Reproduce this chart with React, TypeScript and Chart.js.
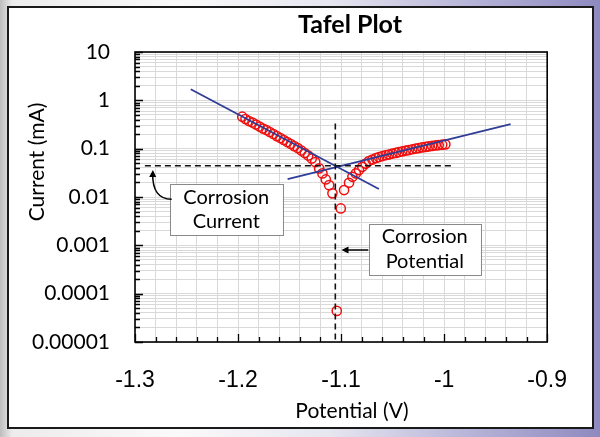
import React, { useEffect, useRef } from 'react';
import { Chart, registerables } from 'chart.js';
Chart.register(...registerables);

// Measured data (Potential in V, Current in mA)
const potentialV = [
  -1.1959, -1.1928, -1.1894, -1.186, -1.1826, -1.1792, -1.1758, -1.1725, -1.1691, -1.1657,
  -1.1623, -1.1589, -1.1556, -1.1522, -1.1488, -1.1454, -1.142, -1.1386, -1.1353, -1.1319,
  -1.1285, -1.1251, -1.1213, -1.1181, -1.1148, -1.1116, -1.1084, -1.1042, -1.1003, -1.0971,
  -1.0923, -1.089, -1.0857, -1.0826, -1.0794, -1.0762, -1.073, -1.0696, -1.0662, -1.0633,
  -1.0599, -1.0565, -1.0536, -1.0502, -1.0469, -1.044, -1.0406, -1.0372, -1.0343, -1.0309,
  -1.0275, -1.0246, -1.0213, -1.0179, -1.015, -1.0116, -1.0082, -1.0053, -1.0019, -0.9988,
];
const currentMA = [
  0.458, 0.41, 0.373, 0.347, 0.316, 0.287, 0.261, 0.243, 0.221, 0.201,
  0.182, 0.166, 0.151, 0.137, 0.125, 0.113, 0.103, 0.0913, 0.0811, 0.072,
  0.0624, 0.0528, 0.0391, 0.0308, 0.0231, 0.0176, 0.0119, 0.000044, 0.0058, 0.0139,
  0.0197, 0.0262, 0.0308, 0.0361, 0.0422, 0.0491, 0.0554, 0.0595, 0.0639, 0.067,
  0.0703, 0.0737, 0.0755, 0.0792, 0.0818, 0.085, 0.0879, 0.0913, 0.0935, 0.0972,
  0.1005, 0.1029, 0.1064, 0.109, 0.1116, 0.1143, 0.1171, 0.1187, 0.121, 0.1227,
];

// Tafel fit lines
const cathodicFitV = [-1.2459, -1.0633];
const cathodicFitI = [1.69, 0.0146];
const anodicFitV = [-1.1519, -0.9355];
const anodicFitI = [0.0235, 0.323];

// Corrosion point guide lines
const icorrLineV = [-1.2904, -0.9916];
const icorrLineI = [0.0443, 0.0443];
const ecorrLineV = [-1.1056, -1.1056];
const ecorrLineI = [0.33, 0.00001];

// Axis ticks
const xTickLabels = ['-1.3', '-1.2', '-1.1', '-1', '-0.9'];
const yTickLabels = ['0.00001', '0.0001', '0.001', '0.01', '0.1', '1', '10'];

const toPts = (xs: number[], ys: number[]) => xs.map((x, i) => ({ x, y: ys[i] }));

const LABEL_FONT = 'Lato, "Open Sans", sans-serif';

function arrowHead(ctx: CanvasRenderingContext2D, tx: number, ty: number, fx: number, fy: number, len: number, half: number) {
  const ang = Math.atan2(ty - fy, tx - fx);
  ctx.beginPath();
  ctx.moveTo(tx, ty);
  ctx.lineTo(tx - len * Math.cos(ang) + half * Math.sin(ang), ty - len * Math.sin(ang) - half * Math.cos(ang));
  ctx.lineTo(tx - len * Math.cos(ang) - half * Math.sin(ang), ty - len * Math.sin(ang) + half * Math.cos(ang));
  ctx.closePath();
  ctx.fill();
}

const decoPlugin = {
  id: 'deco',
  afterDraw(chart: any) {
    const { ctx, chartArea: a, scales } = chart;
    const xs = scales.x;
    const ys = scales.y;
    ctx.save();
    // plot frame
    ctx.strokeStyle = '#000';
    ctx.lineWidth = 1.6;
    ctx.strokeRect(a.left, a.top, a.right - a.left, a.bottom - a.top);
    // inner tick marks
    ctx.lineWidth = 1.3;
    ctx.beginPath();
    ys.ticks.forEach((t: any) => {
      const p = Math.round(ys.getPixelForValue(t.value)) + 0.5;
      const L = Math.log10(t.value);
      const major = Math.abs(L - Math.round(L)) < 1e-6;
      const len = major ? 8 : 5;
      ctx.moveTo(a.left, p);
      ctx.lineTo(a.left + len, p);
    });
    xs.ticks.forEach((t: any, i: number) => {
      const p = Math.round(xs.getPixelForValue(t.value)) + 0.5;
      const len = i % 5 === 0 ? 8 : 5;
      ctx.moveTo(p, a.bottom);
      ctx.lineTo(p, a.bottom - len);
    });
    ctx.stroke();

    // titles
    ctx.fillStyle = '#000';
    ctx.textAlign = 'center';
    ctx.textBaseline = 'middle';
    ctx.font = `bold 25px ${LABEL_FONT}`;
    ctx.fillText('Tafel Plot', 341, 17);
    ctx.font = `21px ${LABEL_FONT}`;
    ctx.fillText('Potential (V)', 343, 403);
    ctx.save();
    ctx.translate(28, 154);
    ctx.rotate(-Math.PI / 2);
    ctx.fillText('Current (mA)', 0, 0);
    ctx.restore();

    // annotation boxes
    const L0 = a.left;
    const T0 = a.top;
    const boxes = [
      { x0: 35, y0: 132, x1: 147.7, y1: 183, cx: 91.3, l1: 'Corrosion', l2: 'Current', ty1: 145.3, ty2: 169.7 },
      { x0: 234, y0: 172, x1: 345.7, y1: 223, cx: 289.8, l1: 'Corrosion', l2: 'Potential', ty1: 184.7, ty2: 209.7 },
    ];
    boxes.forEach((b) => {
      ctx.fillStyle = '#fff';
      ctx.fillRect(L0 + b.x0, T0 + b.y0, b.x1 - b.x0, b.y1 - b.y0);
      ctx.strokeStyle = '#8a8a8a';
      ctx.lineWidth = 1;
      ctx.strokeRect(Math.round(L0 + b.x0) + 0.5, Math.round(T0 + b.y0) + 0.5, Math.round(b.x1 - b.x0), Math.round(b.y1 - b.y0));
      ctx.fillStyle = '#000';
      ctx.font = `20px ${LABEL_FONT}`;
      ctx.fillText(b.l1, L0 + b.cx, T0 + b.ty1);
      ctx.fillText(b.l2, L0 + b.cx, T0 + b.ty2);
    });

    // arrows
    ctx.strokeStyle = '#000';
    ctx.fillStyle = '#000';
    ctx.lineWidth = 1.5;
    // curved arrow to corrosion current line
    const p0 = { x: L0 + 36.7, y: T0 + 147.3 };
    const c = { x: L0 + 17, y: T0 + 147 };
    const p2 = { x: L0 + 17.7, y: T0 + 121 };
    ctx.beginPath();
    ctx.moveTo(p0.x, p0.y);
    ctx.quadraticCurveTo(c.x, c.y, p2.x, p2.y);
    ctx.stroke();
    arrowHead(ctx, p2.x + 0.2, p2.y - 3, c.x, c.y, 7, 3.5);
    // straight arrow to corrosion potential line
    ctx.beginPath();
    ctx.moveTo(L0 + 233.3, T0 + 198);
    ctx.lineTo(L0 + 212, T0 + 198);
    ctx.stroke();
    arrowHead(ctx, L0 + 206.5, T0 + 198, L0 + 233, T0 + 198, 7, 3.5);
    ctx.restore();
  },
};

export default function App() {
  const ref = useRef<HTMLCanvasElement | null>(null);
  useEffect(() => {
    if (!ref.current) return;
    const chart = new Chart(ref.current, {
      type: 'scatter',
      data: {
        datasets: [
          {
            data: toPts(icorrLineV, icorrLineI),
            showLine: true,
            borderColor: '#111',
            borderWidth: 1.6,
            borderDash: [6, 4],
            pointRadius: 0,
          },
          {
            data: toPts(ecorrLineV, ecorrLineI),
            showLine: true,
            borderColor: '#111',
            borderWidth: 1.6,
            borderDash: [6, 4],
            pointRadius: 0,
          },
          {
            data: toPts(cathodicFitV, cathodicFitI),
            showLine: true,
            borderColor: '#2f3d96',
            borderWidth: 1.8,
            pointRadius: 0,
          },
          {
            data: toPts(anodicFitV, anodicFitI),
            showLine: true,
            borderColor: '#2f3d96',
            borderWidth: 1.8,
            pointRadius: 0,
          },
          {
            data: toPts(potentialV, currentMA),
            showLine: false,
            pointStyle: 'circle',
            pointRadius: 4.6,
            borderColor: '#f01010',
            borderWidth: 1.5,
            backgroundColor: 'rgba(0,0,0,0)',
          },
        ],
      },
      options: {
        responsive: false,
        animation: false,
        events: [],
        layout: { padding: { left: 0, top: 44, right: 42, bottom: 0 } },
        plugins: { legend: { display: false }, tooltip: { enabled: false }, title: { display: false } },
        scales: {
          x: {
            type: 'linear',
            min: -1.3,
            max: -0.9,
            afterFit: (s: any) => { s.height = 85; },
            afterBuildTicks: (s: any) => {
              const t = [];
              for (let i = 0; i <= 20; i++) t.push({ value: -1.3 + i * 0.02 });
              s.ticks = t;
            },
            grid: { color: '#d9d9d9', lineWidth: 1, drawTicks: false },
            border: { display: false },
            ticks: {
              autoSkip: false,
              maxRotation: 0,
              padding: 25,
              color: '#000',
              font: { family: '"Liberation Sans", Arial, sans-serif', size: 23 },
              callback: (_v: any, i: number) => (i % 5 === 0 ? xTickLabels[i / 5] : ''),
            },
          },
          y: {
            type: 'logarithmic',
            min: 0.00001,
            max: 10,
            afterFit: (s: any) => { s.width = 126; },
            afterBuildTicks: (s: any) => {
              const t = [];
              for (let e = -5; e <= 0; e++) {
                for (let m = 1; m <= 9; m++) t.push({ value: m * Math.pow(10, e) });
              }
              t.push({ value: 10 });
              s.ticks = t;
            },
            grid: { color: '#d9d9d9', lineWidth: 1, drawTicks: false },
            border: { display: false },
            ticks: {
              autoSkip: false,
              padding: 25,
              color: '#000',
              font: { family: LABEL_FONT, size: 21 },
              callback: (v: any) => {
                const L = Math.log10(Number(v));
                const r = Math.round(L);
                return Math.abs(L - r) < 1e-6 ? yTickLabels[r + 5] : '';
              },
            },
          },
        },
      },
      plugins: [decoPlugin],
    });
    return () => chart.destroy();
  }, []);

  return (
    <div
      style={{
        position: 'fixed',
        left: 0,
        top: 0,
        width: 600,
        height: 437,
        background:
          'linear-gradient(90deg, #bdbdbd 0%, #ececec 2%, #fafafa 30%, #e6e6f0 55%, #b3b0d6 80%, #8e8abf 100%)',
      }}
    >
      <div
        style={{
          position: 'absolute',
          left: 7,
          top: 6,
          width: 583,
          height: 419,
          border: '2px solid #1a1a1a',
          background: '#fff',
        }}
      >
        <canvas ref={ref} width={583} height={419} style={{ display: 'block' }} />
      </div>
    </div>
  );
}
